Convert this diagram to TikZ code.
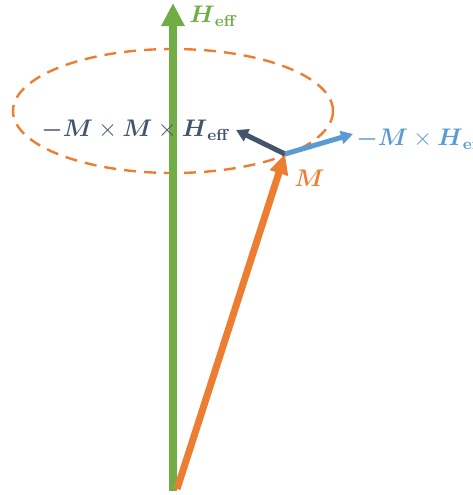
\documentclass[tikz,border=0pt]{standalone}
\usepackage{amsmath,amssymb}
\usepackage{tikz}
\usetikzlibrary{arrows.meta}
\definecolor{fieldgreen}{HTML}{70AD47}
\definecolor{magorange}{HTML}{ED7D31}
\definecolor{precblue}{HTML}{5B9BD5}
\definecolor{dampdark}{HTML}{44546A}
\tikzset{
    fieldvec/.style={
        -{Triangle[length=11.5pt,width=11pt]},
        line width=4pt,
        color=fieldgreen
    },
    magvec/.style={
        -{Triangle[length=10pt,width=9pt]},
        line width=3.5pt,
        color=magorange
    },
    smallvec/.style={
        -{Triangle[length=6pt,width=6.5pt]},
        line width=2.5pt
    },
    orbit/.style={
        dashed,
        dash pattern=on 6pt off 4pt,
        line width=1.2pt,
        color=magorange
    },
    veclabel/.style={
        font=\large,
        inner sep=0pt
    }
}
\begin{document}
\begin{tikzpicture}[x=0.5pt,y=-0.5pt]

    \useasboundingbox (0,0) rectangle (473,495);

    % Points
    \coordinate (origin) at (173,491);
    \coordinate (htip) at (173,3);
    \coordinate (mfoot) at (177,489);
    \coordinate (mtip) at (285,154);
    \coordinate (damptip) at (236,130);
    \coordinate (prectip) at (353,134);

    % Trajectoire
    \draw[orbit]
        (173,111) ellipse [x radius=160,y radius=62];

    % H eff
    \draw[fieldvec]
        (origin) -- (htip);

    % M
    \draw[magvec]
        (mfoot) -- (mtip);

    % Amortissement
    \draw[smallvec,dampdark]
        (mtip) -- (damptip);

    % Precession
    \draw[smallvec,precblue]
        (mtip) -- (prectip);

    % Etiquettes
    \node[
        veclabel,
        fieldgreen,
        anchor=west
    ]
        (hlabel) at (189,16)
        {$\boldsymbol{H}_{\mathbf{eff}}$};

    \node[
        veclabel,
        dampdark
    ]
        (damplabel) at (136,130)
        {$\boldsymbol{-M}\times\boldsymbol{M}\times\boldsymbol{H}_{\mathbf{eff}}$};

    \node[
        veclabel,
        precblue,
        anchor=west
    ]
        (preclabel) at (356,139)
        {$\boldsymbol{-M}\times\boldsymbol{H}_{\mathbf{eff}}$};

    \node[
        veclabel,
        magorange,
        anchor=west
    ]
        (mlabel) at (294,178)
        {$\boldsymbol{M}$};

\end{tikzpicture}
\end{document}
